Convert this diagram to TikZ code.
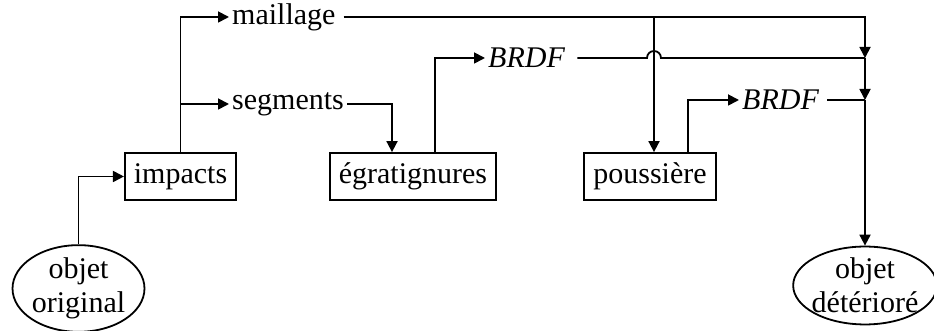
\documentclass[tikz,border=0pt]{standalone}
\usepackage{fontspec}
\setmainfont{Liberation Serif}
\usetikzlibrary{arrows.meta,shapes.geometric}

\begin{document}
\begin{tikzpicture}[x=1pt, y=1pt,
  every node/.style={font=\fontsize{30}{34}\selectfont},
  line/.style={line width=1.8pt},
  arr/.style={line, -{Triangle[length=11pt, width=11pt]}},
  stage/.style={draw, line width=1.8pt, inner xsep=9pt, minimum height=47pt},
  obj/.style={draw, ellipse, line width=1.8pt, inner sep=0pt, align=center},
  lbl/.style={inner xsep=3pt, inner ysep=0pt, anchor=west}]
\useasboundingbox (0,0) rectangle (934,331);
\node[obj] (orig) at (78.5,42.5) {objet\\original};
\node[obj, inner xsep=-2.5pt] (det) at (865,45.5) {objet\\détérioré};
\node[stage] (imp) at (180.5,154.5) {impacts};
\node[stage] (egr) at (413,154.5) {égratignures};
\node[stage] (pouss) at (650,154.5) {poussière};
\node[lbl] (maill) at (229,314) {maillage};
\node[lbl] (segm) at (229,227) {segments};
\node[lbl] (brdfa) at (485,273) {\textit{BRDF}};
\node[lbl] (brdfb) at (739,231) {\textit{BRDF}};
\coordinate (ja) at (det.north |- brdfa.east);
\coordinate (jb) at (det.north |- brdfb.east);
\coordinate (pin) at ([xshift=4pt]pouss.north);
\coordinate (jmp) at (brdfa.east -| pin);
\draw[arr] (orig.north) |- (imp.west);
\draw[arr] (imp.north) |- (maill.west);
\draw[arr] (imp.north |- segm.west) -- (segm.west);
\draw[arr] (segm.east) -| ([xshift=-21pt]egr.north);
\draw[arr] ([xshift=22pt]egr.north) |- (brdfa.west);
\draw[arr] ([xshift=38pt]pouss.north) |- (brdfb.west);
\draw[arr] ([xshift=5pt]maill.east) -| (ja);
\draw[arr] (maill.east -| pin) -- (pin);
\draw[line] ([xshift=9pt]brdfa.east) -- ([xshift=-7pt]jmp) arc[start angle=180, end angle=0, radius=7pt] -- (ja);
\draw[arr] (ja) -- (jb);
\draw[line] ([xshift=5pt]brdfb.east) -- (jb);
\draw[arr] (jb) -- (det.north);
\end{tikzpicture}
\end{document}
